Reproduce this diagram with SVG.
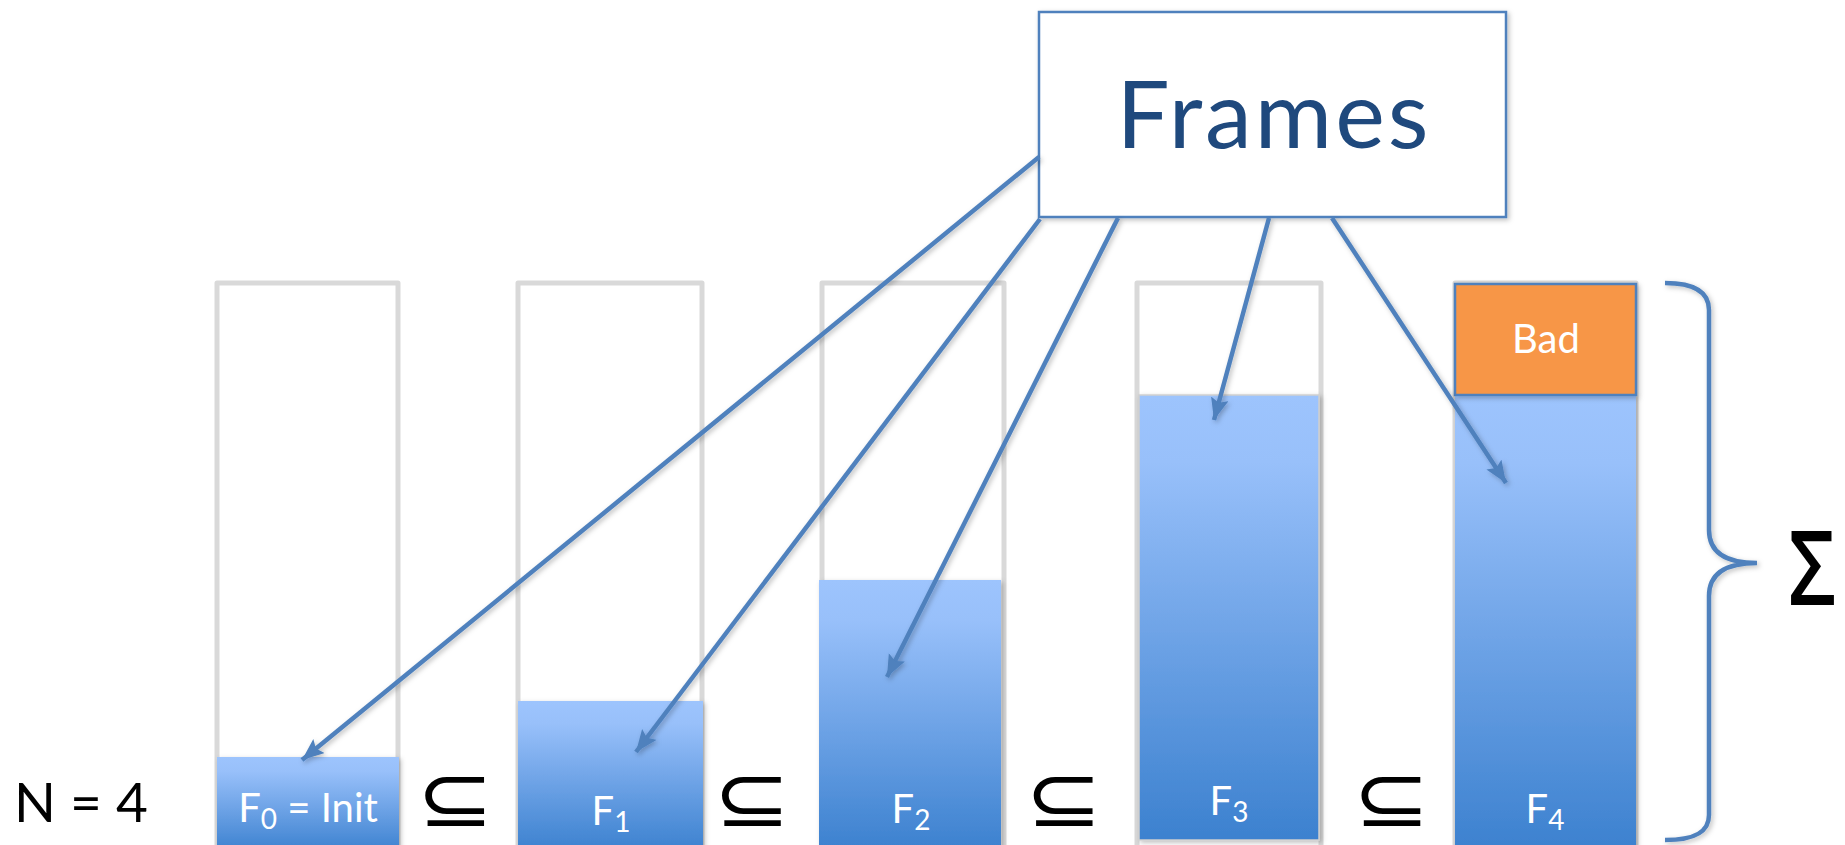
<svg xmlns="http://www.w3.org/2000/svg" width="1845" height="845" viewBox="0 0 1845 845">
<defs>
<linearGradient id="fill" x1="0" y1="0" x2="0" y2="1">
<stop offset="0" stop-color="#9dc4fd"/>
<stop offset="0.15" stop-color="#98c0fa"/>
<stop offset="1" stop-color="#3c81cf"/>
</linearGradient>
<filter id="sh" x="-10%" y="-10%" width="130%" height="130%">
<feDropShadow dx="2" dy="2" stdDeviation="2.5" flood-color="#000" flood-opacity="0.25"/>
</filter>
<marker id="ah" markerUnits="userSpaceOnUse" markerWidth="26" markerHeight="22" refX="22" refY="9" orient="auto">
<path d="M0,0 L22,9 L0,18 L4,9 Z" fill="#4f81bd"/>
</marker>
<style>
.col{fill:none;stroke:#d9d9d9;stroke-width:5;stroke-linejoin:round}
.bar{fill:url(#fill);filter:url(#sh)}
.lbl{font-family:Lato,"Open Sans",sans-serif;fill:#fff;font-size:40px;text-anchor:middle}
.sub{font-size:28px}
.sym{font-family:"DejaVu Sans",sans-serif;font-size:80px;fill:#000;text-anchor:middle}
.conn{stroke:#4f81bd;stroke-width:4.5;fill:none;marker-end:url(#ah);filter:url(#sh)}
</style>
</defs>
<g id="columns">
<rect class="col" x="217" y="283" width="181" height="620"/>
<rect class="col" x="518" y="283" width="184" height="620"/>
<rect class="col" x="822" y="283" width="182" height="620"/>
<rect class="col" x="1137" y="283" width="184" height="620"/>
<rect class="col" x="1455" y="283" width="181" height="620"/>
</g>
<g id="F0"><rect class="bar" x="217" y="757" width="182" height="95"/>
<text class="lbl" x="308" y="822">F<tspan class="sub" dy="7">0</tspan><tspan dy="-7"> = Init</tspan></text></g>
<g id="F1"><rect class="bar" x="518" y="701" width="185" height="150"/>
<text class="lbl" x="611" y="825">F<tspan class="sub" dy="7">1</tspan></text></g>
<g id="F2"><rect class="bar" x="819" y="580" width="182" height="270"/>
<text class="lbl" x="911" y="823">F<tspan class="sub" dy="7">2</tspan></text></g>
<g id="F3"><rect class="bar" x="1139" y="395" width="180" height="445" stroke="#cfcfcf" stroke-width="1.5"/>
<text class="lbl" x="1229" y="815">F<tspan class="sub" dy="7">3</tspan></text></g>
<g id="F4"><rect class="bar" x="1455" y="395" width="181" height="456"/>
<text class="lbl" x="1545" y="823">F<tspan class="sub" dy="7">4</tspan></text></g>
<g id="Bad"><rect x="1455" y="284" width="181" height="111" fill="#f79646" stroke="#4f81bd" stroke-width="2.5" filter="url(#sh)"/>
<text class="lbl" x="1546" y="353">Bad</text></g>
<g id="Frames"><rect x="1039" y="12" width="467" height="205" fill="#fff" stroke="#4f81bd" stroke-width="2.5" filter="url(#sh)"/>
<text x="1274" y="148" font-family="Lato,'Open Sans',sans-serif" font-size="94" letter-spacing="3" fill="#1f497d" text-anchor="middle">Frames</text></g>
<g id="connectors">
<line class="conn" x1="1039" y1="157" x2="302" y2="760"/>
<line class="conn" x1="1040" y1="219" x2="636" y2="752"/>
<line class="conn" x1="1118" y1="218" x2="887" y2="677"/>
<line class="conn" x1="1269" y1="218" x2="1214" y2="420"/>
<line class="conn" x1="1332" y1="218" x2="1506" y2="483"/>
</g>
<g id="brace">
<path d="M1665,283 C1695,283 1709,292 1709,310 L1709,530 C1709,552 1725,563 1757,563 C1725,563 1709,574 1709,596 L1709,815 C1709,832 1695,840 1665,840" fill="none" stroke="#4f81bd" stroke-width="4.5" filter="url(#sh)"/>
</g>
<g id="labels">
<text x="14" y="822" font-family="Lato,'Open Sans',sans-serif" font-size="55" fill="#000">N = 4</text>
<g transform="translate(0 826) scale(1.15 1)">
<text class="sym" x="396" y="0">⊆</text>
<text class="sym" x="654" y="0">⊆</text>
<text class="sym" x="925" y="0">⊆</text>
<text class="sym" x="1210" y="0">⊆</text>
</g>
<text x="1812" y="605" font-family="'Open Sans',sans-serif" font-size="104" font-weight="600" fill="#000" text-anchor="middle" transform="translate(1812 0) scale(0.8 1) translate(-1812 0)">Σ</text>
</g>
</svg>
